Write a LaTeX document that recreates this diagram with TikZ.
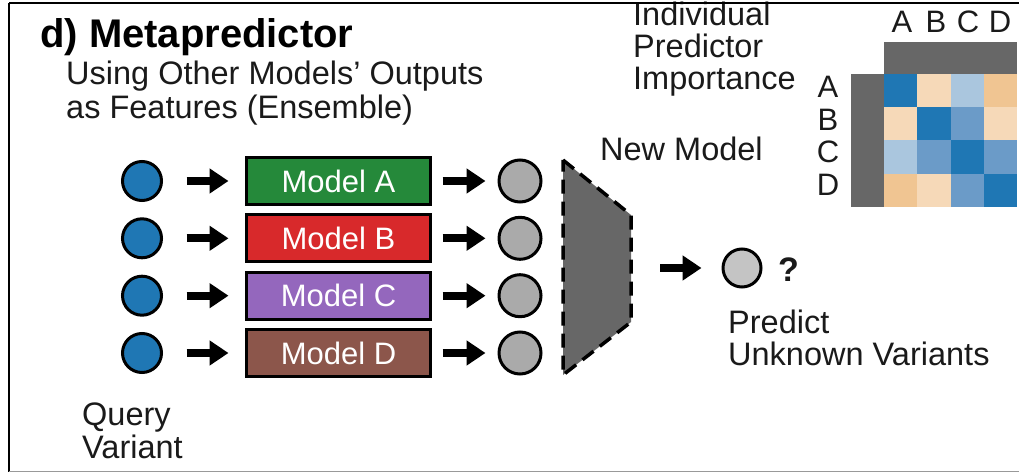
\documentclass[tikz,border=0pt]{standalone}
\usepackage{fontspec}
\setmainfont{Liberation Sans}
\usetikzlibrary{arrows.meta}

\definecolor{ink}{HTML}{1A1A1A}
\definecolor{qblue}{HTML}{1F77B4}
\definecolor{outgray}{HTML}{AAAAAA}
\definecolor{predgray}{HTML}{C4C4C4}
\definecolor{mA}{HTML}{25893A}
\definecolor{mB}{HTML}{D8292B}
\definecolor{mC}{HTML}{9467BD}
\definecolor{mD}{HTML}{8C564B}
\definecolor{trapfill}{HTML}{676767}
\definecolor{bargray}{HTML}{676767}
\definecolor{hdark}{HTML}{1F77B4}
\definecolor{hmed}{HTML}{6B9BC8}
\definecolor{hlight}{HTML}{AAC6DE}
\definecolor{hpeach}{HTML}{F6D9B8}
\definecolor{horange}{HTML}{F0C592}

\begin{document}
\begin{tikzpicture}[x=1pt,y=-1pt,
  txt/.style={font=\fontsize{32.5}{32.5}\selectfont, text=ink, inner sep=0pt, anchor=base west},
  lbl/.style={font=\fontsize{31}{31}\selectfont, text=ink, inner sep=0pt, anchor=base},
  qcirc/.style={circle, draw=black, line width=3pt, fill=qblue, minimum size=39pt, inner sep=0pt},
  ocirc/.style={circle, draw=black, line width=3pt, fill=outgray, minimum size=42pt, inner sep=0pt},
  pcirc/.style={circle, draw=black, line width=3pt, fill=predgray, minimum size=38pt, inner sep=0pt},
  modelbox/.style={draw=black, line width=3pt, minimum width=184pt, minimum height=47pt,
    inner sep=0pt, text=white, font=\fontsize{31}{31}\selectfont},
  arr/.style={line width=8pt, -{Triangle[length=19pt,width=24pt]}}
]
\useasboundingbox (0,0) rectangle (1019,473);

% headings
\node[txt, font=\fontsize{40}{40}\selectfont\bfseries, text=black] (title) at (40,48) {d) Metapredictor};
\node[txt] (sub1) at (66,85) {Using Other Models’ Outputs};
\node[txt] (sub2) at (66,119) {as Features (Ensemble)};

% rows: query variant -> model -> output score
\foreach \i/\y/\m/\c in {1/181/A/mA, 2/238.3/B/mB, 3/295.7/C/mC, 4/353/D/mD} {
  \node[qcirc] (q\i) at (142,\y) {};
  \node[modelbox, fill=\c] (m\i) at (338.5,\y) {Model \m};
  \node[ocirc] (o\i) at (520,\y) {};
  \draw[arr, shorten <=23.5pt, shorten >=16.5pt] (q\i) -- (m\i);
  \draw[arr, shorten <=10.5pt, shorten >=12pt] (m\i) -- (o\i);
}

\node[txt] (qv1) at (82,425) {Query};
\node[txt] (qv2) at (82,458) {Variant};

% new model (combiner)
\draw[fill=trapfill, line width=3.5pt, dash pattern=on 14pt off 8pt]
  (563,160) -- (631,215) -- (631,322) -- (563,375) -- cycle;
\coordinate (nm) at (631,268);
\node[txt] (nmlabel) at (600,161) {New Model};

% final prediction
\node[pcirc] (pred) at (742,268) {};
\draw[arr, shorten <=29pt, shorten >=20pt] (nm) -- (pred);
\node[txt, font=\fontsize{34}{34}\selectfont\bfseries] (qm) at (778,281) {?};
\node[txt] (pu1) at (728,333) {Predict};
\node[txt] (pu2) at (728,365) {Unknown Variants};

% importance heatmap
\node[txt] (imp1) at (633,26) {Individual};
\node[txt] (imp2) at (633,58) {Predictor};
\node[txt] (imp3) at (633,90) {Importance};

\fill[bargray] (884,42) rectangle (1017,74);
\fill[bargray] (851,74) rectangle (884,207);
\foreach \row [count=\r from 0] in {{hdark,hpeach,hlight,horange},{hpeach,hdark,hmed,hpeach},{hlight,hmed,hdark,hmed},{horange,hpeach,hmed,hdark}}
  \foreach \col [count=\c from 0] in \row
    \fill[fill=\col] ({884+33.25*\c},{74+33.25*\r}) rectangle ++(33.25,33.25);

\foreach \l/\x in {A/902, B/936, C/968, D/1000}
  \node[lbl] (col\l) at (\x,33) {\l};
\foreach \l/\y in {A/98, B/131, C/163, D/196}
  \node[lbl] (row\l) at (828,\y) {\l};

% frame
\draw[black, line width=2pt] (9,3) -- (1019,3);
\draw[black, line width=2pt] (9,3) -- (9,472);
\draw[black!40, line width=1.5pt] (9,471.5) -- (1019,471.5);
\end{tikzpicture}
\end{document}
